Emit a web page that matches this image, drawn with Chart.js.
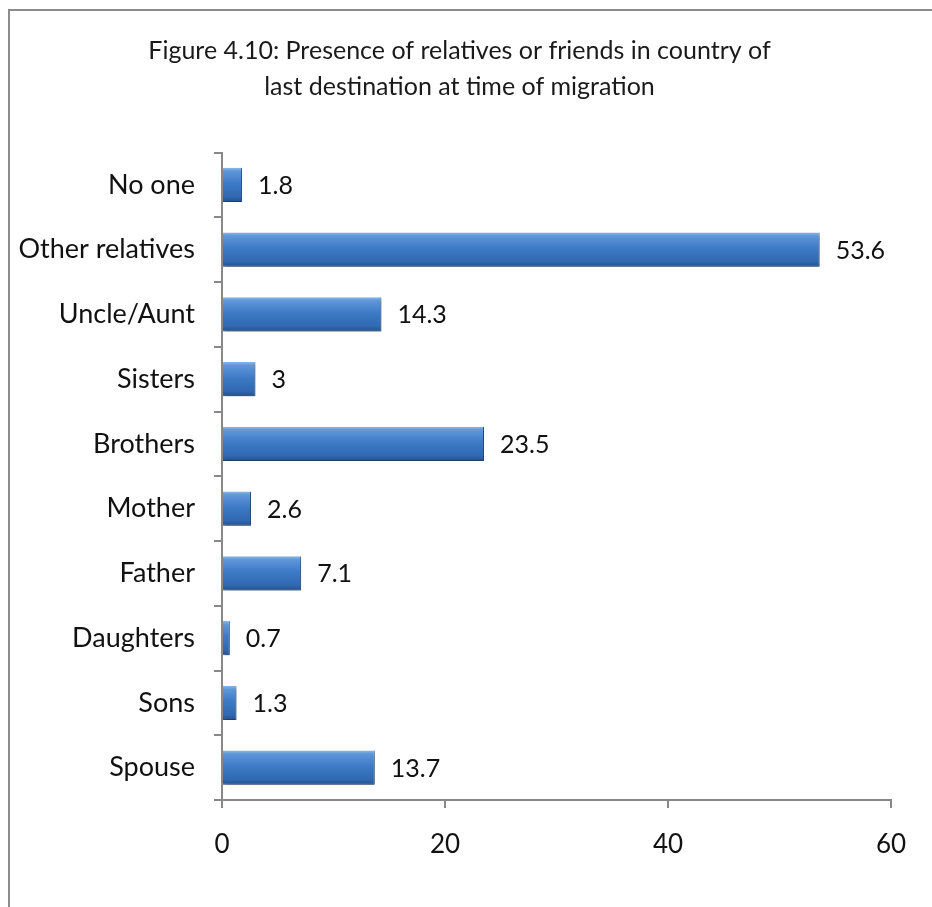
<!DOCTYPE html>
<html>
<head>
<meta charset="utf-8">
<script src="https://cdn.jsdelivr.net/npm/chart.js@4.4.1/dist/chart.umd.min.js"></script>
<style>
  html, body { margin: 0; padding: 0; background: #fff; }
  #wrap { width: 932px; height: 907px; position: relative; }
</style>
</head>
<body>
<div id="wrap"><canvas id="chart" width="932" height="907"></canvas></div>
<script>
// categories, top to bottom as in the figure
const categories = ['No one', 'Other relatives', 'Uncle/Aunt', 'Sisters', 'Brothers',
  'Mother', 'Father', 'Daughters', 'Sons', 'Spouse'];
const percentages = [1.8, 53.6, 14.3, 3, 23.5, 2.6, 7.1, 0.7, 1.3, 13.7];
const xTicks = [0, 20, 40, 60];
const titleLines = ['Figure 4.10: Presence of relatives or friends in country of',
  'last destination at time of migration'];

const FONT = 'Lato, "Open Sans", sans-serif';
const AXIS_GREY = '#888888';
const BAR_PCT = 0.53;

// gradient per bar so each one gets the rounded/bevel look
function barFill(context) {
  const chart = context.chart;
  const yScale = chart.scales.y;
  if (!yScale || context.dataIndex == null) return '#3b78c3';
  const mid = yScale.getPixelForValue(context.dataIndex);
  const half = (yScale.height / categories.length) * BAR_PCT / 2;
  if (!isFinite(mid) || !half) return '#3b78c3';
  const g = chart.ctx.createLinearGradient(0, mid - half, 0, mid + half);
  g.addColorStop(0, '#8ab8ea');
  g.addColorStop(0.1, '#5f97d9');
  g.addColorStop(0.45, '#3e7ac6');
  g.addColorStop(0.85, '#3068b1');
  g.addColorStop(1, '#234f8c');
  return g;
}

// outer frame of the figure (runs off the right and bottom edge)
const framePlugin = {
  id: 'frame',
  afterLayout(chart) {
    // the title in the original sits a little right of the canvas centre
    if (chart.titleBlock) {
      chart.titleBlock.left += 14;
      chart.titleBlock.right += 14;
    }
  },
  beforeDraw(chart) {
    const ctx = chart.ctx;
    ctx.save();
    ctx.strokeStyle = '#8c8c8c';
    ctx.lineWidth = 2;
    ctx.strokeRect(9, 10, 1000, 1000);
    ctx.restore();
  }
};

// soft shadow below the bars
const shadowPlugin = {
  id: 'barShadow',
  beforeDatasetsDraw(chart) {
    const ctx = chart.ctx;
    ctx.save();
    ctx.shadowColor = 'rgba(0,0,0,0.35)';
    ctx.shadowBlur = 4;
    ctx.shadowOffsetX = 1;
    ctx.shadowOffsetY = 3;
  },
  afterDatasetsDraw(chart) {
    chart.ctx.restore();
  }
};

// value labels at the end of each bar
const valueLabels = {
  id: 'valueLabels',
  afterDatasetsDraw(chart) {
    const ctx = chart.ctx;
    const meta = chart.getDatasetMeta(0);
    ctx.save();
    ctx.font = '25px ' + FONT;
    ctx.fillStyle = '#111';
    ctx.textBaseline = 'middle';
    ctx.textAlign = 'left';
    meta.data.forEach((bar, i) => {
      ctx.fillText(String(percentages[i]), bar.x + 16, bar.y + 1);
    });
    ctx.restore();
  }
};

new Chart(document.getElementById('chart'), {
  type: 'bar',
  data: {
    labels: categories,
    datasets: [{
      data: percentages,
      backgroundColor: barFill,
      borderColor: '#2a5a98',
      borderWidth: { top: 0, left: 0, right: 1, bottom: 1 },
      borderSkipped: 'start',
      categoryPercentage: 1,
      barPercentage: BAR_PCT
    }]
  },
  options: {
    indexAxis: 'y',
    responsive: false,
    animation: false,
    layout: { padding: { left: 0, right: 41, top: 0, bottom: 0 } },
    plugins: {
      legend: { display: false },
      tooltip: { enabled: false },
      title: {
        display: true,
        text: titleLines,
        color: '#1a1a1a',
        font: { family: FONT, size: 25, weight: 'normal', lineHeight: 1.45 },
        padding: { top: 33, bottom: 47 }
      }
    },
    scales: {
      x: {
        min: 0,
        max: 60,
        afterBuildTicks(scale) {
          scale.ticks = xTicks.map(v => ({ value: v }));
        },
        afterFit(scale) { scale.height = 107; },
        grid: {
          display: true,
          drawOnChartArea: false,
          drawTicks: true,
          tickLength: 8,
          color: AXIS_GREY,
          lineWidth: 2
        },
        border: { display: true, color: AXIS_GREY, width: 2 },
        ticks: {
          color: '#111',
          padding: 21,
          font: { family: FONT, size: 26 }
        }
      },
      y: {
        afterFit(scale) { scale.width = 222; },
        grid: {
          display: true,
          offset: true,
          drawOnChartArea: false,
          drawTicks: true,
          tickLength: 8,
          color: AXIS_GREY,
          lineWidth: 2
        },
        border: { display: true, color: AXIS_GREY, width: 2 },
        ticks: {
          color: '#111',
          padding: 19,
          font: { family: FONT, size: 27 }
        }
      }
    }
  },
  plugins: [framePlugin, shadowPlugin, valueLabels]
});
</script>
</body>
</html>
